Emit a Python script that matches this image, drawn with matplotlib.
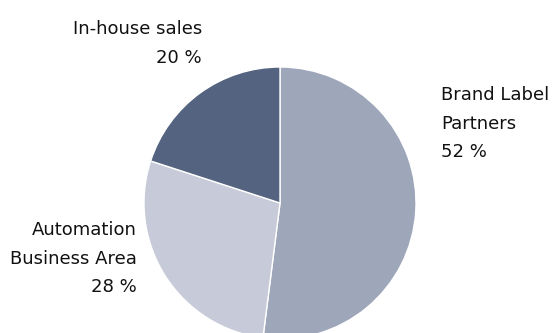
"""
Pie chart: share of sales by channel.
"""

import matplotlib.pyplot as plt

# Data, clockwise from 12 o'clock
segments = ["Brand Label\nPartners", "Automation\nBusiness Area", "In-house sales"]
shares = [52, 28, 20]
colors = ["#9ea7ba", "#c7cad8", "#54637f"]

# label anchor (x, first baseline) in pixel coords from the top, and alignment
label_pos = [(441, 100, "left"), (137, 235, "right"), (202, 34, "right")]

W, H = 555, 333
LINE_STEP = 28.7

fig = plt.figure(figsize=(W / 100, H / 100), dpi=100)
ax = fig.add_axes([0, 0, 1, 1])

ax.pie(
    shares,
    colors=colors,
    startangle=90,
    counterclock=False,
    center=(280, H - 203),
    radius=136,
    wedgeprops={"edgecolor": "white", "linewidth": 1.0},
)

for name, pct, (x, y, ha) in zip(segments, shares, label_pos):
    lines = name.split("\n") + [f"{pct} %"]
    for i, line in enumerate(lines):
        ax.text(
            x,
            H - (y + i * LINE_STEP),
            line,
            ha=ha,
            va="baseline",
            fontsize=13,
            family="DejaVu Sans",
            color="#111111",
        )

ax.set_xlim(0, W)
ax.set_ylim(0, H)
ax.set_aspect("auto")
ax.axis("off")

fig.savefig("out.png", dpi=100)
